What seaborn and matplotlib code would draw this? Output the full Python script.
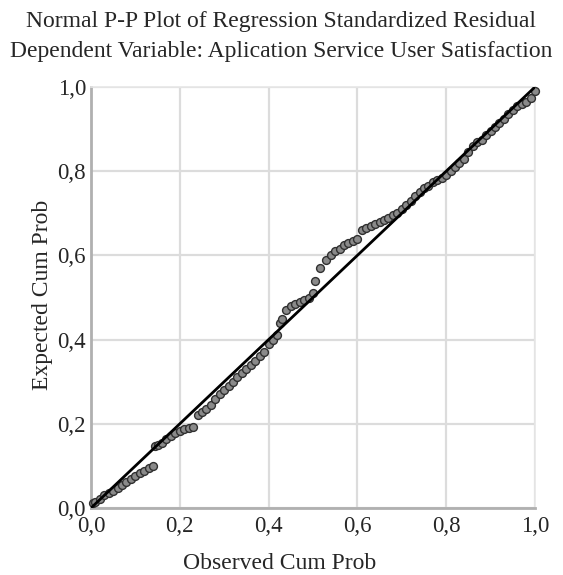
import numpy as np
import pandas as pd
import matplotlib
matplotlib.use("Agg")
from matplotlib import pyplot as plt
import seaborn as sns

# observed vs expected cumulative probabilities
observed = [0.005, 0.01, 0.02, 0.03, 0.04, 0.05, 0.06, 0.07, 0.08, 0.09,
            0.10, 0.11, 0.12, 0.13, 0.14, 0.145, 0.15, 0.16, 0.17, 0.18,
            0.19, 0.20, 0.21, 0.22, 0.23, 0.24, 0.25, 0.26, 0.27, 0.28,
            0.29, 0.30, 0.31, 0.32, 0.33, 0.34, 0.35, 0.36, 0.37, 0.38,
            0.39, 0.40, 0.41, 0.42, 0.425, 0.43, 0.44, 0.45, 0.46, 0.47,
            0.48, 0.49, 0.50, 0.505, 0.515, 0.53, 0.54, 0.55, 0.56, 0.57,
            0.58, 0.59, 0.60, 0.61, 0.62, 0.63, 0.64, 0.65, 0.66, 0.67,
            0.68, 0.69, 0.70, 0.71, 0.72, 0.73, 0.74, 0.75, 0.76, 0.77,
            0.78, 0.79, 0.80, 0.81, 0.82, 0.83, 0.84, 0.85, 0.86, 0.87,
            0.88, 0.89, 0.90, 0.91, 0.92, 0.93, 0.94, 0.95, 0.96, 0.97,
            0.98, 0.99, 1.0]
expected = [0.012, 0.015, 0.022, 0.030, 0.035, 0.040, 0.048, 0.055, 0.062, 0.070,
            0.077, 0.083, 0.088, 0.094, 0.100, 0.148, 0.150, 0.155, 0.163, 0.170,
            0.178, 0.183, 0.187, 0.190, 0.193, 0.220, 0.228, 0.236, 0.245, 0.260,
            0.270, 0.280, 0.290, 0.300, 0.310, 0.320, 0.330, 0.340, 0.350, 0.360,
            0.370, 0.390, 0.400, 0.410, 0.440, 0.450, 0.470, 0.480, 0.485, 0.490,
            0.495, 0.500, 0.510, 0.540, 0.570, 0.590, 0.600, 0.610, 0.615, 0.625,
            0.630, 0.635, 0.640, 0.660, 0.665, 0.670, 0.675, 0.680, 0.685, 0.690,
            0.695, 0.700, 0.710, 0.720, 0.730, 0.740, 0.750, 0.760, 0.765, 0.775,
            0.780, 0.785, 0.790, 0.800, 0.810, 0.820, 0.830, 0.845, 0.860, 0.870,
            0.875, 0.885, 0.895, 0.905, 0.915, 0.925, 0.935, 0.945, 0.955, 0.960,
            0.965, 0.975, 0.990]

ref_line = [0.0, 1.0]
tick_vals = [0.0, 0.2, 0.4, 0.6, 0.8, 1.0]
tick_labels = ["0,0", "0,2", "0,4", "0,6", "0,8", "1,0"]

df = pd.DataFrame({"observed": observed, "expected": expected})

sns.set_style("white")
plt.rcParams["font.family"] = ["Liberation Serif", "DejaVu Serif"]

fig = plt.figure(figsize=(5.63, 5.75), dpi=100)
ax = fig.add_axes([0.1616, 0.1165, 0.7886, 0.7322])

sns.scatterplot(data=df, x="observed", y="expected", ax=ax, s=32,
                color="#8a8a8a", edgecolor="#303030", linewidth=1.0,
                zorder=3, clip_on=False)
sns.lineplot(x=ref_line, y=ref_line, ax=ax, color="black", linewidth=2.0,
             zorder=4)

ax.set_xlim(0, 1)
ax.set_ylim(0, 1)
ax.set_xticks(tick_vals)
ax.set_xticklabels(tick_labels, fontsize=16.5)
ax.set_yticks(tick_vals)
ax.set_yticklabels(tick_labels, fontsize=16.5)
ax.tick_params(axis="x", length=0, pad=6)
ax.tick_params(axis="y", length=0, pad=3.5)
ax.grid(True, color="#dcdcdc", linewidth=1.6)
ax.set_axisbelow(True)

for side in ["top", "right"]:
    ax.spines[side].set_color("#e6e6e6")
    ax.spines[side].set_linewidth(1.2)
for side in ["left", "bottom"]:
    ax.spines[side].set_color("#b0b0b0")
    ax.spines[side].set_linewidth(2.0)

ax.set_xlabel("Observed Cum Prob", fontsize=17)
ax.set_ylabel("Expected Cum Prob", fontsize=17)
ax.xaxis.set_label_coords((280 - 91) / 444, (508 - 563) / 421)
ax.yaxis.set_label_coords((43 - 91) / 444, (508 - 295) / 421)
ax.xaxis.label.set_va("center")
ax.yaxis.label.set_va("center")

fig.text(0.5, 1 - 21 / 575, "Normal P-P Plot of Regression Standardized Residual",
         ha="center", va="center", fontsize=17)
fig.text(0.5, 1 - 51 / 575, "Dependent Variable: Aplication Service User Satisfaction",
         ha="center", va="center", fontsize=17)

fig.savefig("out.png", dpi=100)
